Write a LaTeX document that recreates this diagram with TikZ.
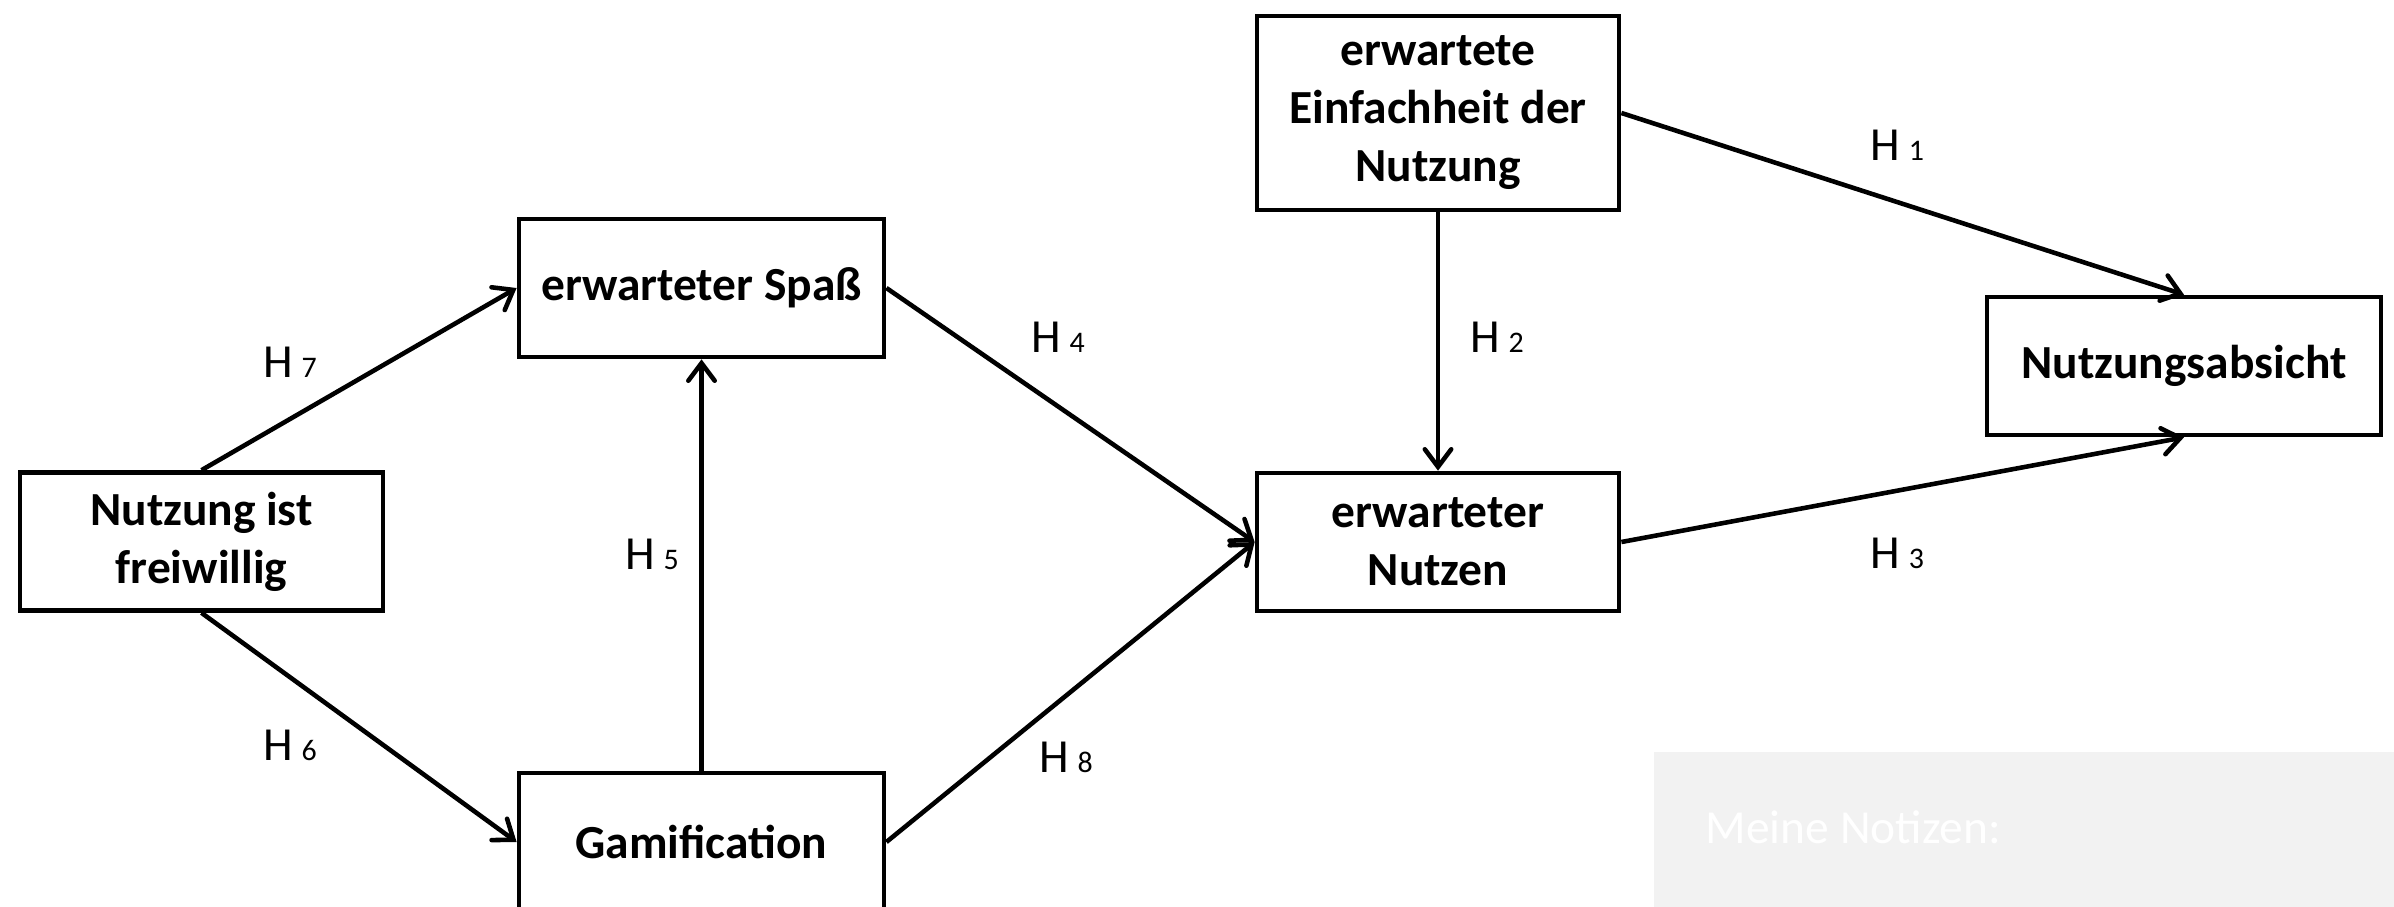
\documentclass[tikz,border=0pt]{standalone}
\usepackage{fontspec}
\setmainfont{Carlito}
\usetikzlibrary{arrows.meta}
\definecolor{notegray}{HTML}{F2F2F2}
\newcommand\hlab[1]{{\fontsize{13.5}{16}\selectfont H}\hspace{2.4pt}{\fontsize{8.5}{10}\selectfont #1}}
\begin{document}
\begin{tikzpicture}[x=0.01cm,y=-0.01cm,
  box/.style={draw,line width=1.3pt,align=center,inner sep=0pt,
    font=\bfseries\fontsize{13.5}{16.5}\selectfont,
    minimum width=3.63cm,minimum height=1.38cm},
  arr/.style={line width=1.3pt,-{Straight Barb[length=5pt,width=7.5pt,line width=1.3pt,line cap=round]}},
  hl/.style={anchor=base west,inner sep=0pt}]
\useasboundingbox (0,0) rectangle (2394,906);
\clip (0,0) rectangle (2394,906);
\fill[white] (0,0) rectangle (2394,906);
% notes box
\node[fill=notegray,inner sep=0pt,anchor=north west,minimum width=7.41cm,minimum height=1.6cm] (notes) at (1653,751) {};
\node[anchor=base west,inner sep=0pt,text=white,font=\fontsize{13.5}{16}\selectfont] (notestext) at (1705,843) {Meine Notizen:};
% boxes
\node[box] (free) at (201.5,541.5) {Nutzung ist\\freiwillig};
\node[box,minimum width=3.65cm] (spass) at (701.5,288) {erwarteter Spaß};
\node[box,minimum width=3.65cm] (gam) at (701.5,842) {Gamification};
\node[box,minimum width=3.62cm,minimum height=1.94cm] (einf) at (1438,113) {erwartete\\Einfachheit der\\Nutzung};
\node[box,minimum width=3.62cm] (nutzen) at (1438,542) {erwarteter\\Nutzen};
\node[box,minimum width=3.94cm] (absicht) at (2184,366) {Nutzungsabsicht};
% connectors
\draw[arr] (free.north) -- (spass.west);
\draw[arr] (free.south) -- (gam.west);
\draw[arr] (gam.north) -- (spass.south);
\draw[arr] (spass.east) -- (nutzen.west);
\draw[arr] (gam.east) -- (nutzen.west);
\draw[arr,line width=1.1pt] (einf.south) -- (nutzen.north);
\draw[arr] (einf.east) -- (absicht.north);
\draw[arr] (nutzen.east) -- (absicht.south);
% labels
\node[hl] (h7) at (263,377) {\hlab{7}};
\node[hl] (h6) at (263,760) {\hlab{6}};
\node[hl] (h5) at (625,569) {\hlab{5}};
\node[hl] (h4) at (1031,352) {\hlab{4}};
\node[hl] (h8) at (1039,772) {\hlab{8}};
\node[hl] (h2) at (1470,352) {\hlab{2}};
\node[hl] (h1) at (1870,160) {\hlab{1}};
\node[hl] (h3) at (1870,568) {\hlab{3}};
\end{tikzpicture}
\end{document}
